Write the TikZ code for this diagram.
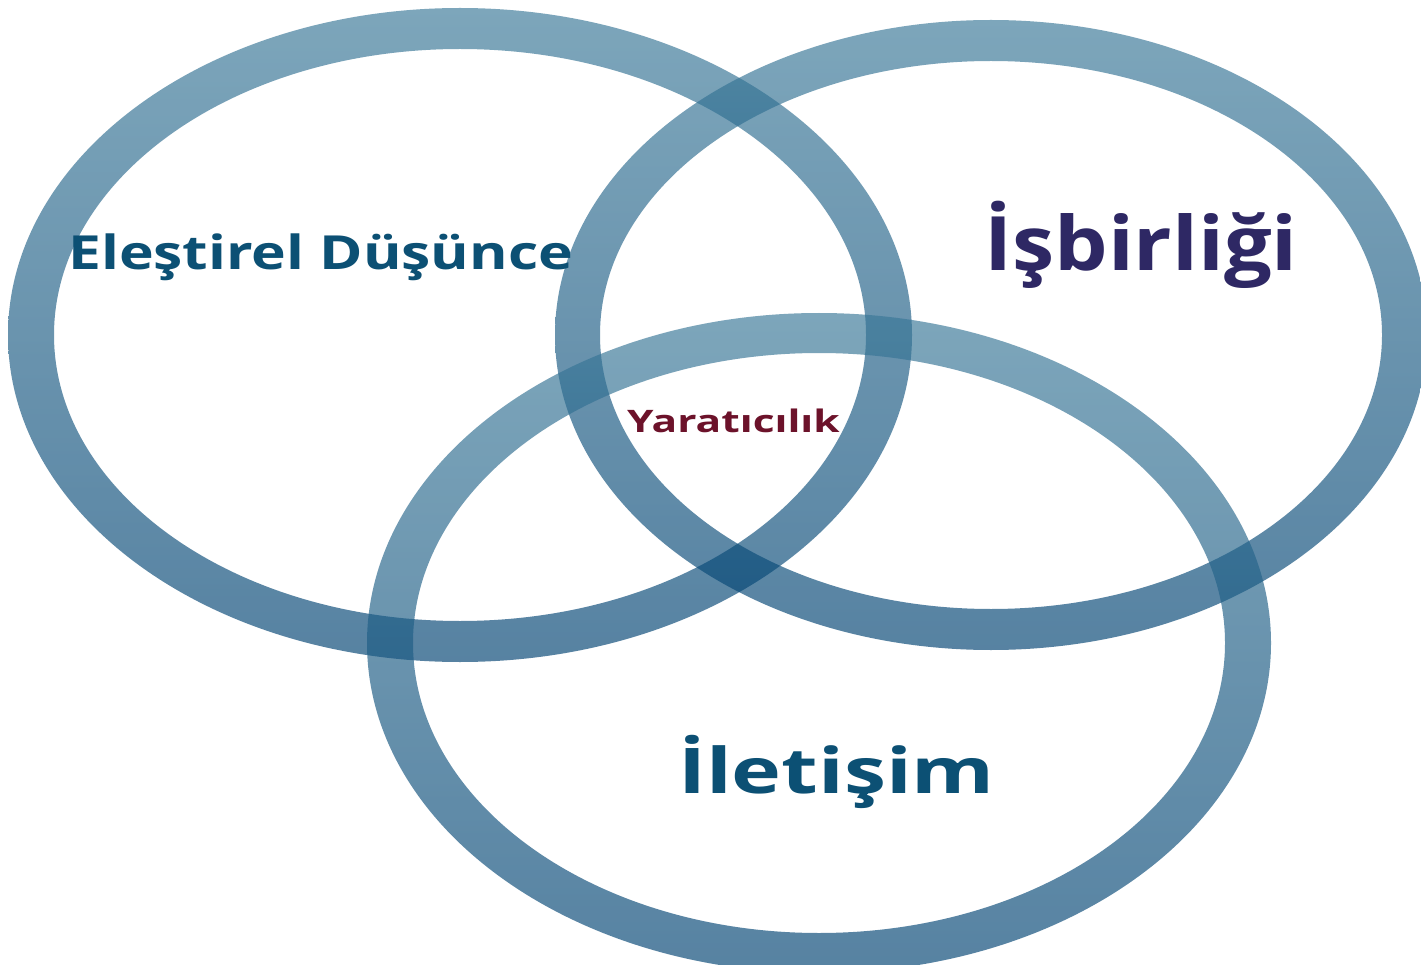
\documentclass[tikz,border=0pt]{standalone}
\usepackage{fontspec}
\setmainfont{Open Sans}[BoldFont={* Bold}]
\begin{document}
\begin{tikzpicture}[x=1pt,y=-1pt,
  ringtop/.style={top color=ringA, bottom color=ringB},
  lbl/.style={inner sep=0pt, anchor=base west}]
\definecolor{ringA}{RGB}{58,120,152}
\definecolor{ringB}{RGB}{0,66,114}
\definecolor{tealtxt}{RGB}{12,80,116}
\definecolor{purptxt}{RGB}{46,40,100}
\definecolor{maroontxt}{RGB}{108,18,42}
\useasboundingbox (0,0) rectangle (1421,965);
\fill[white] (0,0) rectangle (1421,965);
\coordinate (c1) at (460,335);
\coordinate (c2) at (991,335);
\coordinate (c3) at (819,643);
\begin{scope}[transparency group, opacity=0.66]
\shade[ringtop, even odd rule] (c1) ellipse [x radius=452, y radius=327] (c1) ellipse [x radius=406, y radius=286];
\end{scope}
\begin{scope}[transparency group, opacity=0.66]
\shade[ringtop, even odd rule] (c2) ellipse [x radius=436, y radius=315] (c2) ellipse [x radius=391, y radius=274];
\end{scope}
\begin{scope}[transparency group, opacity=0.66]
\shade[ringtop, even odd rule] (c3) ellipse [x radius=452, y radius=330] (c3) ellipse [x radius=406, y radius=290];
\end{scope}
\node[lbl, text=tealtxt, font=\fontsize{47}{50}\selectfont\bfseries] (ed) at (68,270) {\scalebox{1.25}[1]{Eleştirel Düşünce}};
\node[lbl, text=purptxt, font=\fontsize{75}{80}\selectfont\bfseries] (ib) at (984,271) {\scalebox{1.13}[1]{İşbirliği}};
\node[lbl, text=maroontxt, font=\fontsize{31}{34}\selectfont\bfseries] (ya) at (627,432) {\scalebox{1.37}[1]{Yaratıcılık}};
\node[lbl, text=tealtxt, font=\fontsize{63}{66}\selectfont\bfseries] (il) at (678,793) {\scalebox{1.34}[1]{İletişim}};
\end{tikzpicture}
\end{document}
